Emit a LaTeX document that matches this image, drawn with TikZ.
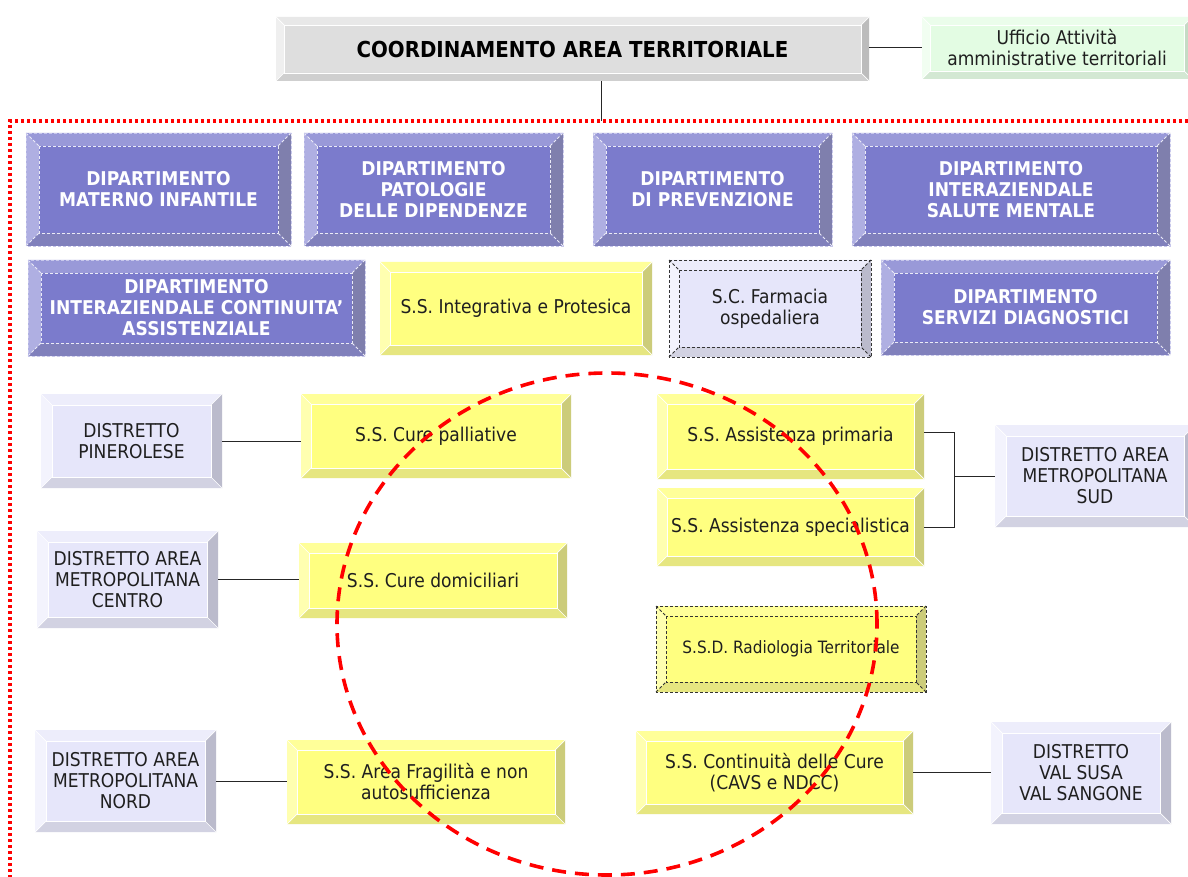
\documentclass[tikz,border=0pt]{standalone}
\usepackage{fontspec}
\setmainfont{DejaVu Sans}[FakeStretch=0.9]
\definecolor{Yface}{HTML}{FFFF80}
\definecolor{Ytop}{HTML}{FFFF99}
\definecolor{Yleft}{HTML}{FFFFB0}
\definecolor{Yright}{HTML}{CCCC7A}
\definecolor{Ybot}{HTML}{E6E680}
\colorlet{Rface}{Yface}\colorlet{Rtop}{Ytop}\colorlet{Rleft}{Yleft}\colorlet{Rright}{Yright}\colorlet{Rbot}{Ybot}
\definecolor{Pface}{HTML}{7B7BCC}
\definecolor{Ptop}{HTML}{9999D8}
\definecolor{Pleft}{HTML}{AFAFE2}
\definecolor{Pright}{HTML}{7F7FAD}
\definecolor{Pbot}{HTML}{8080BC}
\definecolor{Dface}{HTML}{E6E6FA}
\definecolor{Dtop}{HTML}{EDEDFB}
\definecolor{Dleft}{HTML}{F3F3FD}
\definecolor{Dright}{HTML}{BBBBCC}
\definecolor{Dbot}{HTML}{D2D2E2}
\colorlet{Fface}{Dface}\colorlet{Ftop}{Dtop}\colorlet{Fleft}{Dleft}\colorlet{Fright}{Dright}\colorlet{Fbot}{Dbot}
\definecolor{Gface}{HTML}{DEDEDE}
\definecolor{Gtop}{HTML}{E8E8E8}
\definecolor{Gleft}{HTML}{EFEFEF}
\definecolor{Gright}{HTML}{BCBCBC}
\definecolor{Gbot}{HTML}{CFCFCF}
\definecolor{Uface}{HTML}{E3FCE3}
\definecolor{Utop}{HTML}{EBFDEB}
\definecolor{Uleft}{HTML}{F1FEF1}
\definecolor{Uright}{HTML}{C5DBC5}
\definecolor{Ubot}{HTML}{D3E8D3}
\tikzset{
  regtext/.style={font=\fontsize{19}{21}\selectfont, text=black!88, align=center},
  Ytext/.style={regtext}, Rtext/.style={font=\fontsize{17}{20}\selectfont, text=black!88, align=center},
  Dtext/.style={regtext}, Ftext/.style={regtext}, Utext/.style={regtext},
  Ptext/.style={font=\bfseries\fontsize{19}{21}\selectfont, text=white, align=center},
  Gtext/.style={font=\bfseries\fontsize{22}{26}\selectfont, text=black, align=center},
  Yinner/.style={draw=white, line width=0.7pt}, Youter/.style={},
  Dinner/.style={draw=white, line width=0.7pt}, Douter/.style={},
  Ginner/.style={draw=white, line width=0.7pt}, Gouter/.style={},
  Uinner/.style={draw=white, line width=0.7pt}, Uouter/.style={},
  Pinner/.style={draw=white!85!Pface, line width=0.9pt, dash pattern=on 3pt off 2pt},
  Pouter/.style={draw=Pleft!70!white, line width=0.9pt, dash pattern=on 3pt off 2pt},
  Rinner/.style={draw=black!80, line width=0.9pt, dash pattern=on 3pt off 2pt},
  Router/.style={draw=black!80, line width=0.9pt, dash pattern=on 3pt off 2pt},
  Finner/.style={draw=black!80, line width=0.9pt, dash pattern=on 3pt off 2pt},
  Fouter/.style={draw=black!80, line width=0.9pt, dash pattern=on 3pt off 2pt},
  link/.style={draw=black!85, line width=1pt},
}
% #1 name, #2 scheme, #3 x1, #4 y1, #5 x2, #6 y2, #7 bevel, #8 text
\newcommand\bevbox[8]{%
  \fill[#2face] (#3,#4) rectangle (#5,#6);
  \fill[#2top] (#3,#4) -- (#5,#4) -- ({#5-#7},{#4+#7}) -- ({#3+#7},{#4+#7}) -- cycle;
  \fill[#2bot] (#3,#6) -- (#5,#6) -- ({#5-#7},{#6-#7}) -- ({#3+#7},{#6-#7}) -- cycle;
  \fill[#2left] (#3,#4) -- ({#3+#7},{#4+#7}) -- ({#3+#7},{#6-#7}) -- (#3,#6) -- cycle;
  \fill[#2right] (#5,#4) -- ({#5-#7},{#4+#7}) -- ({#5-#7},{#6-#7}) -- (#5,#6) -- cycle;
  \path[#2inner] ({#3+#7},{#4+#7}) rectangle ({#5-#7},{#6-#7});
  \path[#2inner] (#3,#4) -- ({#3+#7},{#4+#7}) (#5,#4) -- ({#5-#7},{#4+#7})
     (#5,#6) -- ({#5-#7},{#6-#7}) (#3,#6) -- ({#3+#7},{#6-#7});
  \path[#2outer] (#3,#4) rectangle (#5,#6);
  \node[#2text, inner sep=0pt, minimum width={(#5-#3)*1pt}, minimum height={(#6-#4)*1pt}]
     (#1) at ({(#3+#5)/2},{(#4+#6)/2}) {#8};
}
\begin{document}
\begin{tikzpicture}[x=1pt,y=-1pt]
\useasboundingbox (0,0) rectangle (1188,877);
\fill[white] (0,0) rectangle (1188,877);

\bevbox{H}{G}{276}{17}{869}{81}{8}{COORDINAMENTO AREA TERRITORIALE}
\bevbox{U}{U}{922}{17}{1192}{79}{8}{Ufficio Attività\\amministrative territoriali}

\bevbox{B1}{P}{26}{133}{291}{246}{13}{DIPARTIMENTO\\MATERNO INFANTILE}
\bevbox{B2}{P}{304}{133}{563}{246}{13}{DIPARTIMENTO\\PATOLOGIE\\DELLE DIPENDENZE}
\bevbox{B3}{P}{593}{133}{832}{246}{13}{DIPARTIMENTO\\DI PREVENZIONE}
\bevbox{B4}{P}{852}{133}{1170}{246}{13}{DIPARTIMENTO\\INTERAZIENDALE\\SALUTE MENTALE}

\bevbox{P5}{P}{28}{260}{365}{356}{13}{DIPARTIMENTO\\INTERAZIENDALE CONTINUITA’\\ASSISTENZIALE}
\bevbox{Y1}{Y}{380}{262}{652}{355}{10}{S.S. Integrativa e Protesica}
\bevbox{F}{F}{669}{260}{871}{357}{10}{S.C. Farmacia\\ospedaliera}
\bevbox{P6}{P}{881}{260}{1170}{355}{13}{DIPARTIMENTO\\SERVIZI DIAGNOSTICI}

\bevbox{D1}{D}{41}{394}{222}{488}{11}{DISTRETTO\\PINEROLESE}
\bevbox{Y2}{Y}{301}{394}{571}{478}{10}{S.S. Cure palliative}
\bevbox{Y3}{Y}{657}{394}{924}{479}{10}{S.S. Assistenza primaria}
\bevbox{Y4}{Y}{657}{488}{924}{566}{10}{S.S. Assistenza specialistica}
\bevbox{D2}{D}{995}{425}{1195}{527}{11}{DISTRETTO AREA\\METROPOLITANA\\SUD}

\bevbox{D3}{D}{37}{531}{218}{628}{11}{DISTRETTO AREA\\METROPOLITANA\\CENTRO}
\bevbox{Y5}{Y}{299}{543}{567}{618}{10}{S.S. Cure domiciliari}
\bevbox{Y6}{R}{656}{606}{926}{692}{10}{S.S.D. Radiologia Territoriale}

\bevbox{D4}{D}{35}{730}{216}{832}{11}{DISTRETTO AREA\\METROPOLITANA\\NORD}
\bevbox{Y7}{Y}{287}{740}{565}{824}{10}{S.S. Area Fragilità e non\\autosufficienza}
\bevbox{Y8}{Y}{636}{731}{913}{814}{10}{S.S. Continuità delle Cure\\(CAVS e NDCC)}
\bevbox{D5}{D}{991}{722}{1171}{824}{11}{DISTRETTO\\VAL SUSA\\VAL SANGONE}

% connectors
\coordinate (hd) at (601,121);
\coordinate (j) at (954,480);
\draw[link] (U.west) -- (U.west -| H.east);
\draw[link] (hd |- H.south) -- (hd);
\draw[link] (D1.east) -- (D1.east -| Y2.west);
\draw[link] (D3.east) -- (D3.east -| Y5.west);
\draw[link] (D4.east) -- (D4.east -| Y7.west);
\draw[link] (Y8.east) -- (Y8.east -| D5.west);
\draw[link] ([yshift=4pt]Y3.east) -| (j |- Y4.east) -- (Y4.east);
\draw[link] (j |- D2.west) -- (D2.west);

% red frame and ellipse
\draw[red, line width=3.2pt, dash pattern=on 3pt off 3pt] (1188,121) -- (10,121) -- (10,877);
\draw[red, line width=3.6pt, dash pattern=on 14pt off 9pt] (607,624) ellipse [x radius=270pt, y radius=251pt];
\end{tikzpicture}
\end{document}
